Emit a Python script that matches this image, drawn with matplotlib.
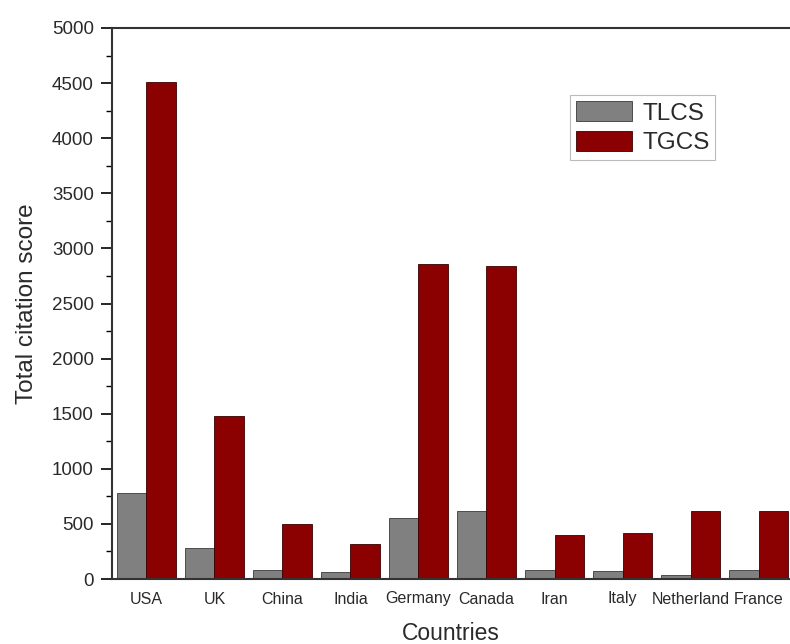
import numpy as np
import matplotlib
matplotlib.use('Agg')
import matplotlib.pyplot as plt
from matplotlib.ticker import MultipleLocator

plt.rcParams['font.family'] = ['Liberation Sans', 'DejaVu Sans']

# Values
countries = ['USA', 'UK', 'China', 'India', 'Germany', 'Canada',
             'Iran', 'Italy', 'Netherland', 'France']
tlcs = [777, 278, 82, 67, 550, 617, 82, 75, 36, 82]
tgcs = [4510, 1479, 496, 314, 2855, 2840, 402, 420, 617, 617]

BAR_WIDTH = 0.44
TEXT_COLOR = '#2a2a2a'

fig = plt.figure(figsize=(7.9, 6.44), dpi=100)
ax = fig.add_axes([112 / 790, 65 / 644, 678 / 790, 551 / 644])

x = np.arange(len(countries))
ax.bar(x - BAR_WIDTH / 2, tlcs, BAR_WIDTH, color='#808080',
       edgecolor='#3a3a3a', linewidth=0.6, label='TLCS')
ax.bar(x + BAR_WIDTH / 2, tgcs, BAR_WIDTH, color='#8b0000',
       edgecolor='#3a0000', linewidth=0.6, label='TGCS')

ax.set_xlim(-0.507, 9.463)
ax.set_ylim(0, 5000)
ax.set_xticks(x)
ax.set_xticklabels(countries, fontsize=11.5, color=TEXT_COLOR)
ax.tick_params(axis='x', length=0, pad=9)

ax.yaxis.set_major_locator(MultipleLocator(500))
ax.yaxis.set_minor_locator(MultipleLocator(250))
ax.tick_params(axis='y', which='major', direction='out', length=8,
               width=1.2, labelsize=13.5, labelcolor=TEXT_COLOR, pad=5)
ax.tick_params(axis='y', which='minor', direction='out', length=4,
               width=1.0)

for side in ['left', 'top', 'bottom']:
    ax.spines[side].set_linewidth(1.5)
    ax.spines[side].set_color('#333333')
ax.spines['right'].set_visible(False)

ax.set_xlabel('Countries', fontsize=16.5, color=TEXT_COLOR, labelpad=11)
ax.set_ylabel('Total citation score', fontsize=17.5, color=TEXT_COLOR,
              labelpad=10)

leg = ax.legend(loc='upper left', bbox_to_anchor=(0.676, 0.878),
                fontsize=17.5, frameon=True, fancybox=False,
                handlelength=2.3, handleheight=0.9, handletextpad=0.4,
                labelspacing=0.25, borderpad=0.25, borderaxespad=0)
leg.get_frame().set_edgecolor('#aaaaaa')
leg.get_frame().set_linewidth(0.8)
for t in leg.get_texts():
    t.set_color(TEXT_COLOR)

fig.savefig('out.png', dpi=100)
